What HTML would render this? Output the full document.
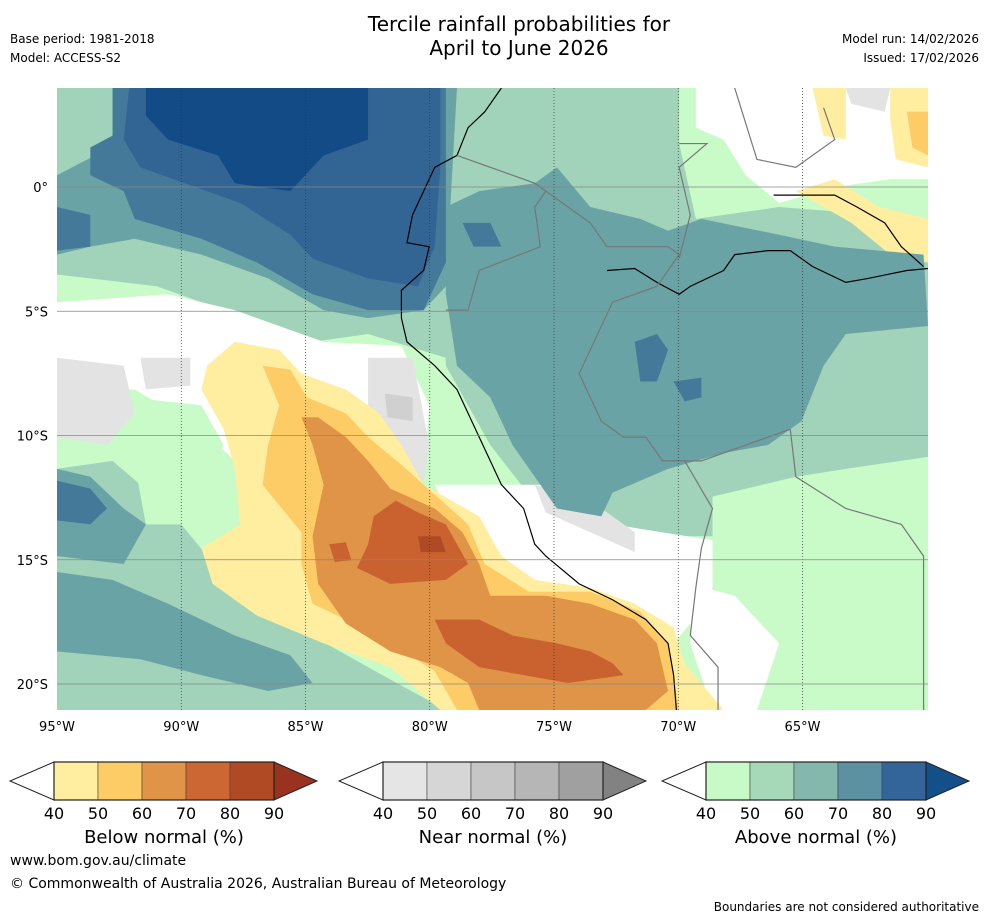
<!DOCTYPE html>
<html><head><meta charset="utf-8"><style>
body{margin:0;background:#fff;width:988px;height:919px;overflow:hidden;font-family:"DejaVu Sans","Liberation Sans",sans-serif}
svg{display:block;font-family:"DejaVu Sans","Liberation Sans",sans-serif}
</style></head><body>
<svg width="988" height="919" viewBox="0 0 988 919">
<text x="519" y="31" font-size="20" text-anchor="middle">Tercile rainfall probabilities for</text>
<text x="519" y="55" font-size="20" text-anchor="middle">April to June 2026</text>
<text x="10" y="43" font-size="12">Base period: 1981-2018</text>
<text x="10" y="62" font-size="12">Model: ACCESS-S2</text>
<text x="979" y="43" font-size="12" text-anchor="end">Model run: 14/02/2026</text>
<text x="979" y="62" font-size="12" text-anchor="end">Issued: 17/02/2026</text>
<defs><clipPath id="mc"><rect x="57" y="88" width="871" height="622"/></clipPath></defs>
<g clip-path="url(#mc)">
<rect x="57" y="88" width="871" height="622" fill="#c9fbc9"/>
<g id="fills" transform="translate(57,88) scale(0.5555,0.3967)"></g>
<g id="grid"></g>
</g>
<g id="axes"></g>
<g id="bars"></g>
<text x="10" y="865" font-size="14">www.bom.gov.au/climate</text>
<text x="10" y="888" font-size="14">© Commonwealth of Australia 2026, Australian Bureau of Meteorology</text>
<text x="979" y="911" font-size="12" text-anchor="end">Boundaries are not considered authoritative</text>
</svg>
<script>
const NS="http://www.w3.org/2000/svg";
const lonTicks=[95,90,85,80,75,70,65];
const latTicks=[0,5,10,15,20];
const cbLabels=[40,50,60,70,80,90];
const belowColors=["#ffeda0","#fecc66","#e09448","#cc6633","#b04a25","#993320"];
const nearColors=["#e5e5e5","#d6d6d6","#c6c6c6","#b6b6b6","#a0a0a0","#828282"];
const aboveColors=["#c8fac8","#a5d9b8","#85b8ad","#5b91a1","#33659a","#134f89"];
function X(lon){return 57+(95-lon)*24.85;}
function Y(lat){return 187+lat*24.85;}
function mk(t,a,p){const e=document.createElementNS(NS,t);for(const k in a)e.setAttribute(k,a[k]);p.appendChild(e);return e;}
const F=document.getElementById('fills');
const shapes=[
["#a0d3b9","(0,0),(760,0),(760,600),(700,680),(560,620),(460,640),(300,560),(180,500),(60,480),(0,470)"],
["#a0d3b9","(680,0),(1120,0),(1120,140),(1150,330),(1300,300),(1568,330),(1568,930),(1420,960),(1330,980),(1180,1030),(1180,1130),(1000,1130),(880,1080),(780,900),(700,700)"],
["#a0d3b9","(0,960),(100,940),(200,1060),(300,1230),(420,1350),(560,1460),(700,1568),(0,1568)"],
["#ffffff","(0,540),(200,520),(320,560),(480,640),(620,650),(670,800),(660,1000),(420,960),(320,940),(260,860),(140,760),(0,760)"],
["#c9fbc9","(130,780),(260,800),(300,900),(260,1000),(250,1100),(160,1100),(140,950)"],
["#e3e3e3","(0,680),(120,700),(140,820),(90,900),(0,880)"],
["#e3e3e3","(150,680),(240,680),(240,750),(160,760)"],
["#e3e3e3","(560,680),(640,680),(670,900),(660,1000),(600,900),(560,800)"],
["#d0d0d0","(590,770),(640,780),(640,840),(595,830)"],
["#ffffff","(1150,0),(1568,0),(1568,230),(1500,230),(1400,250),(1300,290),(1240,220),(1200,130),(1150,100)"],
["#e3e3e3","(1420,0),(1500,0),(1490,60),(1430,40)"],
["#ffeda0","(1360,0),(1420,0),(1420,130),(1380,120)"],
["#ffeda0","(1500,0),(1568,0),(1568,200),(1510,180),(1500,80)"],
["#fecc66","(1530,60),(1568,60),(1568,170),(1540,150)"],
["#ffeda0","(1330,260),(1400,230),(1480,300),(1568,330),(1568,440),(1500,420),(1430,340)"],
["#ffffff","(680,1000),(880,1000),(1000,1100),(1180,1140),(1180,1260),(1140,1350),(1110,1400),(1020,1330),(900,1270),(780,1220),(720,1120)"],
["#e3e3e3","(860,1000),(960,1040),(1040,1120),(1040,1170),(960,1120),(880,1070)"],
["#ffffff","(1140,1250),(1220,1280),(1300,1400),(1260,1568),(1180,1568),(1140,1400)"],
["#ffeda0","(270,700),(320,640),(400,660),(440,720),(520,760),(580,820),(620,900),(660,1000),(760,1080),(800,1180),(860,1240),(960,1260),(1040,1300),(1110,1360),(1130,1450),(1200,1568),(690,1568),(600,1460),(480,1400),(360,1330),(280,1250),(260,1160),(330,1100),(320,960),(300,860),(260,760)"],
["#fecc66","(370,700),(420,710),(450,780),(520,820),(560,880),(620,950),(700,1050),(740,1100),(770,1200),(850,1270),(960,1270),(1050,1320),(1100,1400),(1120,1568),(720,1568),(680,1470),(580,1380),(460,1300),(440,1200),(440,1120),(370,1000),(380,900),(400,800)"],
["#e09448","(440,830),(470,830),(520,880),(560,940),(600,1010),(680,1060),(730,1120),(760,1200),(780,1280),(880,1280),(960,1300),(1040,1340),(1080,1400),(1100,1520),(1060,1568),(760,1568),(740,1500),(690,1460),(600,1420),(520,1350),(470,1250),(460,1130),(480,1000),(460,900)"],
["#c9622f","(570,1080),(610,1040),(650,1070),(700,1100),(740,1200),(700,1240),(600,1250),(540,1210),(560,1150)"],
["#c9622f","(680,1340),(760,1340),(820,1380),(900,1400),(960,1420),(1000,1450),(1020,1480),(920,1500),(840,1480),(760,1460),(700,1400)"],
["#c9622f","(490,1150),(520,1145),(530,1190),(500,1195)"],
["#b04a25","(650,1130),(690,1130),(700,1170),(655,1170)"],
["#6aa3a5","(0,220),(110,140),(100,0),(720,0),(700,500),(660,560),(560,580),(480,560),(380,480),(260,420),(140,380),(60,400),(0,420)"],
["#6aa3a5","(700,300),(760,260),(860,240),(900,200),(960,300),(1050,330),(1100,360),(1160,330),(1300,370),(1400,400),(1560,420),(1568,600),(1420,620),(1380,700),(1340,840),(1280,900),(1200,920),(1100,960),(1000,1020),(980,1080),(900,1060),(820,900),(780,780),(720,700),(700,520)"],
["#6aa3a5","(0,960),(60,980),(120,1060),(160,1100),(120,1200),(0,1180)"],
["#6aa3a5","(0,1220),(100,1240),(200,1300),(320,1380),(420,1430),(460,1500),(380,1520),(260,1480),(150,1440),(0,1420)"],
["#44799a","(100,0),(700,0),(700,440),(660,560),(560,560),(460,520),(360,440),(260,380),(140,330),(120,260),(60,220),(60,150),(100,120)"],
["#44799a","(0,300),(60,320),(60,400),(0,410)"],
["#44799a","(1040,640),(1080,620),(1100,660),(1080,740),(1050,740)"],
["#44799a","(1110,740),(1160,730),(1160,780),(1130,790)"],
["#44799a","(730,340),(780,340),(800,400),(750,400)"],
["#44799a","(0,990),(60,1010),(90,1060),(60,1100),(0,1090)"],
["#336594","(130,0),(690,0),(690,200),(680,400),(650,500),(560,480),(460,430),(420,370),(330,290),(230,240),(150,200),(120,130)"],
["#134b86","(160,0),(560,0),(560,130),(480,170),(420,260),(320,240),(290,170),(200,130),(160,70)"]
];
shapes.forEach(([c,p],i)=>{const el=mk('polygon',{points:p.replace(/\),\(/g,' ').replace(/[()]/g,''),fill:c},F);

});
const lines=[
["#000","(800,0),(770,60),(740,100),(720,170),(680,200),(660,260),(640,320),(630,390),(670,400),(660,460),(620,510),(620,580),(630,640),(680,700),(720,760),(740,820),(760,880),(780,940),(800,1000),(840,1060),(860,1150),(880,1180),(940,1250),(1000,1290),(1060,1340),(1100,1400),(1110,1480),(1115,1568)"],
["#000","(990,460),(1040,455),(1080,490),(1120,520),(1140,500),(1200,460),(1220,420),(1280,410),(1320,410),(1360,450),(1420,490),(1460,480),(1530,460),(1568,455)"],
["#000","(1290,270),(1400,270),(1440,300),(1490,340),(1520,400),(1560,450)"],
["#777","(720,170),(780,200),(860,240),(880,260),(860,300),(870,400),(760,460),(740,560),(700,560)"],
["#777","(880,260),(960,340),(990,400),(1100,400),(1120,420),(1080,500),(1000,540),(980,600),(940,720),(980,840),(1020,880),(1060,880),(1090,940),(1160,940),(1240,900),(1320,860)"],
["#777","(1120,140),(1170,140),(1120,200),(1140,320),(1120,430)"],
["#777","(1130,940),(1180,1060),(1160,1160),(1150,1260),(1140,1380),(1190,1460),(1190,1568)"],
["#777","(1320,860),(1330,980),(1420,1060),(1520,1100),(1560,1180),(1560,1568)"],
["#777","(1220,0),(1260,180),(1330,200),(1400,130),(1380,50)"]
];
lines.forEach(([c,p])=>{const el=mk('polyline',{points:p.replace(/\),\(/g,' ').replace(/[()]/g,''),fill:'none',stroke:c,'stroke-width':1.2,'vector-effect':'non-scaling-stroke'},F);

});
const G=document.getElementById('grid'),A=document.getElementById('axes');
lonTicks.forEach(l=>{const x=X(l);
if(l!==95){const g=mk('line',{x1:x,x2:x,y1:88,y2:710,stroke:'#333','stroke-width':0.7,'stroke-dasharray':'1,2'},G);

}
const t=mk('text',{x:x,y:731,'font-size':13,'text-anchor':'middle'},A);t.textContent=l+'°W';

});
latTicks.forEach(l=>{const y=Y(l);
const g=mk('line',{x1:57,x2:928,y1:y,y2:y,stroke:'#888','stroke-width':0.7},G);


const t=mk('text',{x:48,y:y+5,'font-size':13,'text-anchor':'end'},A);t.textContent=l===0?'0°':l+'°S';

});
const B=document.getElementById('bars');
function bar(x0,cols,title,name){const w=44;
const g=mk('g',{},B);


mk('polygon',{points:`${x0},762 ${x0-44},781 ${x0},800`,fill:'#fff',stroke:'#222','stroke-width':1},g);
cols.slice(0,5).forEach((c,i)=>{const r=mk('rect',{x:x0+i*w,y:762,width:w,height:38,fill:c,stroke:'#444','stroke-width':0.6},g);

});
mk('polygon',{points:`${x0+5*w},762 ${x0+5*w+43},781 ${x0+5*w},800`,fill:cols[5],stroke:'#222','stroke-width':1},g);
mk('rect',{x:x0,y:762,width:5*w,height:38,fill:'none',stroke:'#222','stroke-width':1.2},g);
cbLabels.forEach((v,i)=>{const t=mk('text',{x:x0+i*w,y:819,'font-size':16,'text-anchor':'middle'},g);t.textContent=v;

});
const t=mk('text',{x:x0+110,y:843,'font-size':18,'text-anchor':'middle'},g);t.textContent=title;

}
bar(54,belowColors,'Below normal (%)','below-normal-colorbar');
bar(383,nearColors,'Near normal (%)','near-normal-colorbar');
bar(706,aboveColors,'Above normal (%)','above-normal-colorbar');
</script>
</body></html>
